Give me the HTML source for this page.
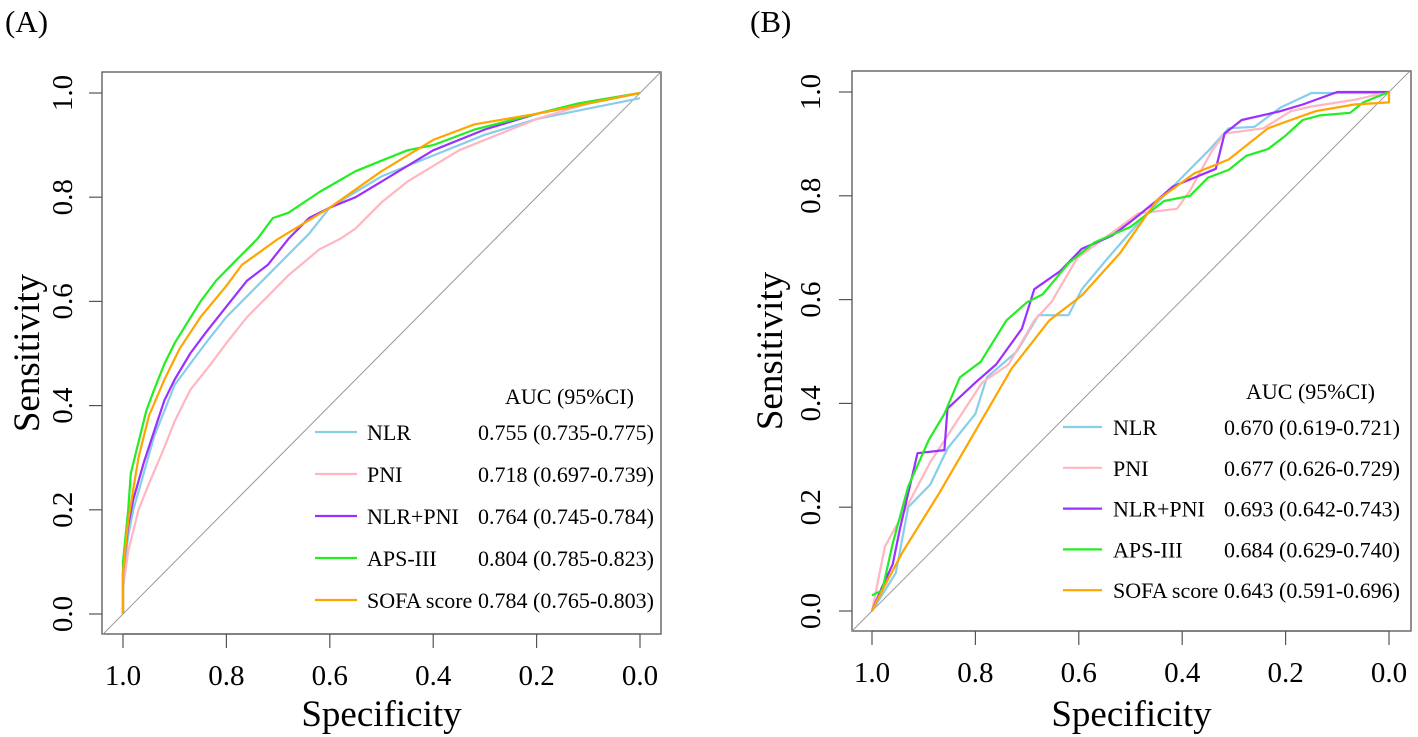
<!DOCTYPE html>
<html><head><meta charset="utf-8">
<style>
body{margin:0;background:#fff;}
svg{display:block;font-family:"Liberation Serif",serif;}
</style></head>
<body>
<svg id="fig" width="1418" height="737" viewBox="0 0 1418 737" xmlns="http://www.w3.org/2000/svg">
<rect width="1418" height="737" fill="#fff"/>
</svg>
<script>
// ---- Data ----
const seriesNames = ["NLR","PNI","NLR+PNI","APS-III","SOFA score"];
const seriesColors = ["#87CEEB","#FFB6C1","#9B30FF","#22EE22","#FFA500"];
const xTicks = [1.0,0.8,0.6,0.4,0.2,0.0];
const yTicks = [0.0,0.2,0.4,0.6,0.8,1.0];
const aucA = ["0.755 (0.735-0.775)","0.718 (0.697-0.739)","0.764 (0.745-0.784)","0.804 (0.785-0.823)","0.784 (0.765-0.803)"];
const aucB = ["0.670 (0.619-0.721)","0.677 (0.626-0.729)","0.693 (0.642-0.743)","0.684 (0.629-0.740)","0.643 (0.591-0.696)"];

// Panel A
const aNlrSpec = [1,1,0.99,0.98,0.96,0.94,0.92,0.9,0.87,0.84,0.8,0.76,0.72,0.68,0.64,0.6,0.55,0.5,0.45,0.4,0.3,0.2,0.1,0.05,0];
const aNlrSens = [0,0.07,0.15,0.2,0.27,0.34,0.39,0.44,0.48,0.52,0.57,0.61,0.65,0.69,0.73,0.78,0.81,0.84,0.86,0.88,0.92,0.95,0.97,0.98,0.99];
const aPniSpec = [1,1,0.99,0.97,0.95,0.92,0.9,0.87,0.83,0.8,0.76,0.72,0.68,0.62,0.58,0.55,0.5,0.45,0.4,0.35,0.3,0.2,0.1,0];
const aPniSens = [0,0.05,0.12,0.2,0.25,0.32,0.37,0.43,0.48,0.52,0.57,0.61,0.65,0.7,0.72,0.74,0.79,0.83,0.86,0.89,0.91,0.95,0.98,1];
const aComSpec = [1,1,0.99,0.98,0.96,0.94,0.92,0.9,0.87,0.84,0.8,0.76,0.72,0.68,0.64,0.6,0.55,0.5,0.45,0.4,0.3,0.2,0.1,0];
const aComSens = [0,0.08,0.17,0.22,0.29,0.35,0.41,0.45,0.5,0.54,0.59,0.64,0.67,0.72,0.76,0.78,0.8,0.83,0.86,0.89,0.93,0.96,0.98,1];
const aApsSpec = [1,1,0.99,0.985,0.97,0.955,0.94,0.92,0.9,0.875,0.85,0.82,0.78,0.74,0.71,0.68,0.62,0.55,0.5,0.45,0.4,0.32,0.2,0.12,0];
const aApsSens = [0,0.1,0.2,0.27,0.33,0.39,0.43,0.48,0.52,0.56,0.6,0.64,0.68,0.72,0.76,0.77,0.81,0.85,0.87,0.89,0.9,0.93,0.96,0.98,1];
const aSofaSpec = [1,1,0.99,0.97,0.95,0.92,0.89,0.85,0.8,0.77,0.7,0.6,0.5,0.4,0.32,0.2,0.1,0];
const aSofaSens = [0,0.08,0.18,0.3,0.38,0.45,0.51,0.57,0.63,0.67,0.72,0.78,0.85,0.91,0.94,0.96,0.98,1];

// Panel B
const bNlrSpec = [1,0.954,0.93,0.887,0.854,0.8,0.778,0.72,0.678,0.62,0.594,0.544,0.5,0.46,0.393,0.35,0.31,0.26,0.21,0.15,0,0];
const bNlrSens = [0,0.073,0.2,0.244,0.313,0.38,0.45,0.5,0.57,0.57,0.62,0.68,0.73,0.775,0.843,0.886,0.93,0.933,0.97,0.998,0.998,0.98];
const bPniSpec = [1,0.975,0.937,0.887,0.837,0.787,0.736,0.686,0.653,0.603,0.544,0.485,0.41,0.385,0.343,0.318,0.243,0.19,0.15,0.067,0];
const bPniSens = [0,0.124,0.193,0.287,0.364,0.44,0.475,0.56,0.595,0.68,0.723,0.766,0.775,0.81,0.886,0.92,0.93,0.963,0.972,0.985,1];
const bComSpec = [1,0.98,0.96,0.946,0.93,0.912,0.86,0.854,0.8,0.76,0.71,0.686,0.636,0.594,0.536,0.5,0.45,0.418,0.335,0.318,0.285,0.21,0.167,0.1,0];
const bComSens = [0,0.047,0.09,0.158,0.227,0.304,0.31,0.39,0.44,0.475,0.544,0.62,0.655,0.698,0.723,0.75,0.79,0.818,0.852,0.92,0.946,0.963,0.976,1,1];
const bApsSpec = [1,0.98,0.96,0.93,0.89,0.86,0.83,0.79,0.74,0.7,0.67,0.62,0.57,0.5,0.435,0.385,0.35,0.31,0.276,0.234,0.2,0.167,0.134,0.075,0.05,0];
const bApsSens = [0.03,0.04,0.13,0.24,0.33,0.38,0.45,0.48,0.56,0.595,0.61,0.67,0.71,0.74,0.79,0.8,0.835,0.85,0.877,0.89,0.916,0.946,0.955,0.96,0.98,1];
const bSofaSpec = [1,0.98,0.94,0.87,0.8,0.73,0.657,0.594,0.52,0.45,0.377,0.31,0.234,0.19,0.142,0.067,0,0];
const bSofaSens = [0,0.04,0.115,0.227,0.347,0.467,0.56,0.608,0.69,0.79,0.843,0.87,0.93,0.946,0.963,0.976,0.98,1];

const NS="http://www.w3.org/2000/svg";
const svg=document.getElementById('fig');
function el(tag,attrs,parent){const e=document.createElementNS(NS,tag);for(const k in attrs)e.setAttribute(k,attrs[k]);(parent||svg).appendChild(e);return e;}

const panels=[
 {id:'a',label:'(A)',labelX:5,box:[102,72,661,634],x1:123,x0:640,y1:93,y0:614,ylabX:62,ytitleX:27,auc:aucA,
  series:[[aNlrSpec,aNlrSens],[aPniSpec,aPniSens],[aComSpec,aComSens],[aApsSpec,aApsSens],[aSofaSpec,aSofaSens]],
  leg:{hdrX:505,hdrY:396,rowY:432,dy:42,lx1:315,lx2:357,tx:367,vx:478}},
 {id:'b',label:'(B)',labelX:750,box:[852,71,1411,631],x1:872,x0:1389,y1:92,y0:611,ylabX:810,ytitleX:770,auc:aucB,
  series:[[bNlrSpec,bNlrSens],[bPniSpec,bPniSens],[bComSpec,bComSens],[bApsSpec,bApsSens],[bSofaSpec,bSofaSens]],
  leg:{hdrX:1246,hdrY:391,rowY:427,dy:40.8,lx1:1063,lx2:1102,tx:1113,vx:1224}}
];

panels.forEach(p=>{
 const g=el('g',{});
 
 
 const sx=v=>p.x0+(p.x1-p.x0)*v;
 const sy=v=>p.y0-(p.y0-p.y1)*v;
 const t=el('text',{x:p.labelX,y:32,'font-size':31,fill:'#000'},g);t.textContent=p.label;
 
 
 const [bl,bt,br,bb]=p.box;
 const box=el('rect',{x:bl,y:bt,width:br-bl,height:bb-bt,fill:'none',stroke:'#555','stroke-width':1.3},g);
 
 
 const diag=el('line',{x1:sx(1.04),y1:sy(-0.04),x2:sx(-0.04),y2:sy(1.04),stroke:'#999','stroke-width':1},g);
 
 
 el('line',{x1:sx(1),y1:bb,x2:sx(0),y2:bb,stroke:'#555','stroke-width':1.2},g);
 xTicks.forEach(v=>{
  const tk=el('line',{x1:sx(v),y1:bb,x2:sx(v),y2:bb+14,stroke:'#555','stroke-width':1.2},g);
  
  
  const tl=el('text',{x:sx(v),y:bb+51,'font-size':29,'text-anchor':'middle',fill:'#000'},g);
  tl.textContent=v.toFixed(1);
  
  
 });
 yTicks.forEach(v=>{
  const tk=el('line',{x1:bl-13,y1:sy(v),x2:bl,y2:sy(v),stroke:'#555','stroke-width':1.2},g);
  
  
  const tl=el('text',{x:p.ylabX,y:sy(v),'font-size':29,'text-anchor':'middle',fill:'#000',transform:`rotate(-90 ${p.ylabX} ${sy(v)})`,dy:10},g);
  tl.textContent=v.toFixed(1);
  
  
 });
 const xt=el('text',{x:(bl+br)/2,y:726,'font-size':37,'text-anchor':'middle',fill:'#000'},g);xt.textContent='Specificity';
 
 
 const cy=(bt+bb)/2;
 const yt=el('text',{x:p.ytitleX,y:cy,'font-size':37,'text-anchor':'middle',fill:'#000',transform:`rotate(-90 ${p.ytitleX} ${cy})`,dy:12},g);yt.textContent='Sensitivity';
 
 
 p.series.forEach((s,i)=>{
  const pts=s[0].map((sp,j)=>sx(sp).toFixed(1)+','+sy(s[1][j]).toFixed(1)).join(' ');
  const pl=el('polyline',{points:pts,fill:'none',stroke:seriesColors[i],'stroke-width':2.2,'stroke-linejoin':'round'},g);
  
  
 });
 const L=p.leg;
 const hd=el('text',{x:L.hdrX,y:L.hdrY+8,'font-size':22,fill:'#000'},g);hd.textContent='AUC (95%CI)';
 
 
 seriesNames.forEach((n,i)=>{
  const y=L.rowY+L.dy*i;
  const ln=el('line',{x1:L.lx1,y1:y,x2:L.lx2,y2:y,stroke:seriesColors[i],'stroke-width':2.2},g);
  
  
  const tx=el('text',{x:L.tx,y:y+8,'font-size':22,fill:'#000'},g);tx.textContent=n;
  
  
  const vx=el('text',{x:L.vx,y:y+8,'font-size':22,fill:'#000'},g);vx.textContent=p.auc[i];
  
  
 });
});
</script>
</body></html>
